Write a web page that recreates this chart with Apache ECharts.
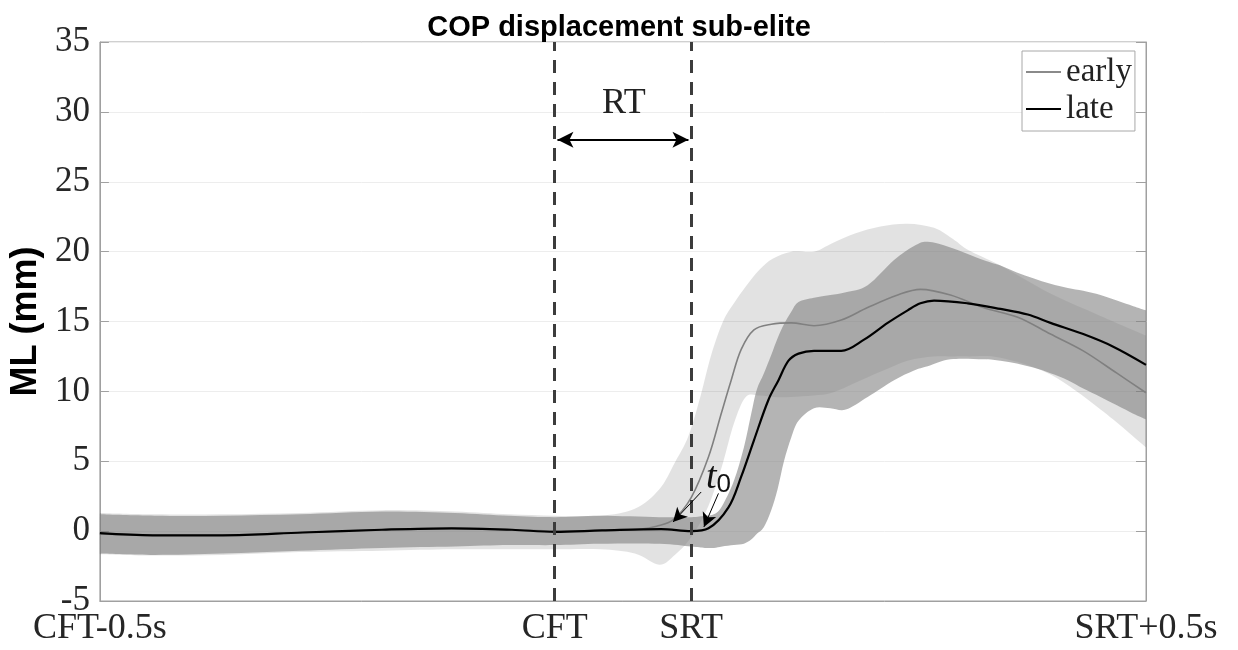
<!DOCTYPE html>
<html>
<head>
<meta charset="utf-8">
<script src="https://cdn.jsdelivr.net/npm/echarts@6/dist/echarts.min.js"></script>
<style>html,body{margin:0;padding:0;background:#fff}#c{width:1238px;height:650px}</style>
</head>
<body>
<div id="c"></div>
<script>
// ---------- texts / ticks ----------
const chartTitle = 'COP displacement sub-elite';
const yAxisName = 'ML (mm)';
const xTickValues = [-500, 0, 150, 650];          // ms relative to CFT
const xTickLabels = ['CFT-0.5s', 'CFT', 'SRT', 'SRT+0.5s'];
const eventTimes = [0, 150];                      // CFT, SRT (dashed lines)
const yMin = -5, yMax = 35, yStep = 5;
const seriesNames = ['early', 'late'];

// ---------- mean curves (time in ms, value in mm) ----------
const earlyTime = [-500,-442,-365,-277,-190,-113,-47,0,52,95,112,130,150,169,183,194,205,219,238,260,285,315,344,377,402,435,471,509,545,581,618,650];
const earlyMean = [-0.2,-0.3,-0.3,-0.1,0.1,0.2,0.1,0.0,0.05,0.15,0.35,0.8,2.4,5.3,8.4,10.8,13.0,14.4,14.8,14.9,14.7,15.1,16.0,16.9,17.3,16.9,16.0,15.3,14.1,12.9,11.3,9.9];

const lateTime = [-500,-442,-365,-277,-190,-113,-47,0,52,117,150,169,191,205,219,235,246,257,268,285,315,340,366,388,402,417,454,490,520,545,581,614,650];
const lateMean = [-0.15,-0.3,-0.3,-0.1,0.1,0.2,0.1,-0.05,0.05,0.15,0.0,0.2,1.7,3.9,6.5,9.4,10.8,12.2,12.7,12.9,12.9,13.7,14.9,15.8,16.3,16.5,16.3,15.9,15.5,14.9,14.1,13.2,11.9];

// ---------- variability bands ----------
const earlyBandTime  = [-500,-440,-365,-280,-190,-110,-50,0,50,88,115,132,147,160,172,185,197,210,225,240,260,285,305,330,358,388,417,440,455,490,545,600,650];
const earlyBandUpper = [1.3,1.2,1.2,1.3,1.5,1.4,1.2,1.1,1.1,1.6,3.0,4.9,6.8,9.6,12.6,15.0,16.3,17.5,18.7,19.5,20.0,20.0,20.6,21.3,21.8,22.0,21.7,20.8,20.1,19.0,17.0,15.4,14.0];
const earlyBandLower = [-1.65,-1.75,-1.7,-1.5,-1.4,-1.3,-1.3,-1.3,-1.3,-1.6,-2.4,-1.7,-0.7,0.6,2.3,4.9,7.7,9.6,9.7,9.6,9.6,9.7,9.9,10.6,11.4,12.2,12.5,12.5,12.5,12.4,11.2,8.7,6.0];

const lateBandTime  = [-500,-440,-365,-280,-190,-110,-50,0,50,115,150,165,175,184,197,208,216,222,230,238,245,252,260,268,285,303,320,344,373,395,410,435,471,490,508,526,545,564,581,600,618,636,650];
const lateBandUpper = [1.2,1.1,1.1,1.2,1.4,1.3,1.1,1.0,1.1,1.0,1.0,1.1,1.2,1.8,3.6,6.0,8.4,10.1,11.3,12.6,13.8,14.8,15.7,16.4,16.7,16.9,17.1,17.6,19.4,20.4,20.7,20.3,19.4,19.0,18.5,18.1,17.7,17.4,17.2,16.9,16.5,16.1,15.8];
const lateBandLower = [-1.6,-1.7,-1.6,-1.4,-1.2,-1.1,-1.0,-1.0,-0.9,-0.9,-1.1,-1.2,-1.2,-1.1,-1.0,-0.9,-0.6,-0.2,0.3,1.5,3.0,5.0,6.7,7.9,8.8,8.8,8.7,9.6,10.8,11.5,11.8,12.3,12.3,12.2,12.0,11.7,11.3,10.8,10.2,9.6,9.0,8.4,8.0];

// ---------- annotations ----------
const rtLabel = 'RT';
const rtArrow = { from: 3, to: 147, y: 28 };
const rtLabelPos = [76, 30.6];
const t0LabelPos = [180, 3.8];
const t0Arrows = [
  { from: [161, 2.8], to: [130, 0.65] },
  { from: [180, 2.7], to: [164, 0.3] }
];

// ---------- build ----------
const pairs = (t, v) => t.map((x, i) => [x, v[i]]);
const serif = 'Liberation Serif';
const axisGray = '#a0a0a0';

// Catmull-Rom -> cubic bezier path segments through pixel points
function smoothSegs(pts) {
  let d = '';
  const k = 1 / 6;
  for (let i = 0; i < pts.length - 1; i++) {
    const p0 = pts[i - 1] || pts[i], p1 = pts[i], p2 = pts[i + 1], p3 = pts[i + 2] || pts[i + 1];
    const c1x = p1[0] + (p2[0] - p0[0]) * k, c1y = p1[1] + (p2[1] - p0[1]) * k;
    const c2x = p2[0] - (p3[0] - p1[0]) * k, c2y = p2[1] - (p3[1] - p1[1]) * k;
    d += ' C' + c1x.toFixed(2) + ' ' + c1y.toFixed(2) + ' ' + c2x.toFixed(2) + ' ' + c2y.toFixed(2) + ' ' + p2[0].toFixed(2) + ' ' + p2[1].toFixed(2);
  }
  return d;
}

function bandSeries(name, t, lo, up, color) {
  return {
    type: 'custom', name: name, silent: true, clip: true, z: 1,
    data: [[t[0], up[0]]],
    renderItem: function (params, api) {
      const U = t.map((x, i) => api.coord([x, up[i]]));
      const L = t.map((x, i) => api.coord([x, lo[i]])).reverse();
      const d = 'M' + U[0][0] + ' ' + U[0][1] + smoothSegs(U) +
                ' L' + L[0][0] + ' ' + L[0][1] + smoothSegs(L) + ' Z';
      return { type: 'path', shape: { pathData: d }, style: { fill: color, stroke: null } };
    }
  };
}

const chart = echarts.init(document.getElementById('c'), null, { renderer: 'canvas' });
chart.setOption({
  animation: false,
  backgroundColor: '#fff',
  title: {
    text: chartTitle, left: 'center', top: 8,
    textStyle: { fontFamily: 'Liberation Sans', fontWeight: 'bold', fontSize: 29, color: '#000' }
  },
  legend: {
    data: [
      { name: seriesNames[0], icon: 'rect', itemStyle: { color: '#8a8a8a' } },
      { name: seriesNames[1], icon: 'rect', itemStyle: { color: '#000' } }
    ],
    orient: 'vertical', left: 1022, top: 51,
    padding: [4, 3, 5, 4], itemGap: 3, itemWidth: 35, itemHeight: 2,
    borderColor: '#a8a8a8', borderWidth: 1, backgroundColor: '#fff',
    textStyle: { fontFamily: serif, fontSize: 33, color: '#222', lineHeight: 34 },
    selectedMode: false
  },
  grid: { left: 97, right: 92, top: 42, bottom: 49, show: true, borderColor: axisGray, borderWidth: 1, backgroundColor: 'transparent' },
  xAxis: {
    type: 'value', min: -500, max: 650, interval: 50,
    axisLine: { show: true, onZero: false, lineStyle: { color: axisGray } },
    axisTick: { show: false },
    splitLine: { show: false },
    axisLabel: {
      fontFamily: serif, fontSize: 36, color: '#262626', margin: 10,
      showMinLabel: true, showMaxLabel: true, hideOverlap: false,
      formatter: function (v) {
        for (let i = 0; i < xTickValues.length; i++) if (Math.abs(v - xTickValues[i]) < 1e-6) return xTickLabels[i];
        return '';
      }
    }
  },
  yAxis: [{
    type: 'value', min: yMin, max: yMax, interval: yStep, position: 'left',
    name: yAxisName, nameLocation: 'middle', nameGap: 54,
    nameTextStyle: { fontFamily: 'Liberation Sans', fontWeight: 'bold', fontSize: 36, color: '#000' },
    axisLine: { show: true, onZero: false, lineStyle: { color: axisGray } },
    axisTick: { show: true, inside: true, length: 9, lineStyle: { color: axisGray } },
    splitLine: { show: true, lineStyle: { color: '#ededed' } },
    axisLabel: { fontFamily: serif, fontSize: 35, color: '#262626', margin: 10 }
  }, {
    type: 'value', min: yMin, max: yMax, interval: yStep, position: 'right',
    axisLine: { show: true, onZero: false, lineStyle: { color: axisGray } },
    axisTick: { show: true, inside: true, length: 10, lineStyle: { color: axisGray } },
    splitLine: { show: false },
    axisLabel: { show: false }
  }],
  series: [
    bandSeries('earlyBand', earlyBandTime, earlyBandLower, earlyBandUpper, 'rgba(0,0,0,0.115)'),
    bandSeries('lateBand', lateBandTime, lateBandLower, lateBandUpper, 'rgba(130,130,130,0.6)'),
    {
      type: 'line', name: seriesNames[0], data: pairs(earlyTime, earlyMean),
      symbol: 'none', smooth: 0.35,
      lineStyle: { color: '#808080', width: 1.6 }, itemStyle: { color: '#808080' }, z: 3
    },
    {
      type: 'line', name: seriesNames[1], data: pairs(lateTime, lateMean),
      symbol: 'none', smooth: 0.35,
      lineStyle: { color: '#000', width: 2.2 }, itemStyle: { color: '#000' }, z: 4,
      markLine: {
        silent: true, animation: false, precision: 3, symbol: ['none', 'none'],
        data: [
          ...eventTimes.map(t => ({ xAxis: t, label: { show: false },
            lineStyle: { type: [13, 9], color: '#3c3c3c', width: 3 } })),
          [{ coord: [rtArrow.from, rtArrow.y], symbol: 'arrow', symbolSize: [12, 16], label: { show: false },
             lineStyle: { type: 'solid', color: '#000', width: 2 } },
           { coord: [rtArrow.to, rtArrow.y], symbol: 'arrow', symbolSize: [12, 16] }],
          ...t0Arrows.map(a => [
            { coord: a.from, symbol: 'none', label: { show: false }, lineStyle: { type: 'solid', color: '#000', width: 1 } },
            { coord: a.to, symbol: 'arrow', symbolSize: [11, 14] }
          ])
        ]
      },
      markPoint: {
        silent: true, animation: false, symbolSize: 0,
        data: [
          { coord: rtLabelPos, label: { show: true, position: 'inside', formatter: rtLabel,
              fontFamily: serif, fontSize: 36, color: '#222' } },
          { coord: t0LabelPos, label: { show: true, position: 'inside', formatter: '{t|t}{s|0}',
              rich: {
                t: { fontFamily: serif, fontStyle: 'italic', fontSize: 38, color: '#111', lineHeight: 40 },
                s: { fontFamily: 'Liberation Sans', fontSize: 26, color: '#111', verticalAlign: 'bottom', lineHeight: 26 }
              } } }
        ]
      }
    }
  ]
});
</script>
</body>
</html>
